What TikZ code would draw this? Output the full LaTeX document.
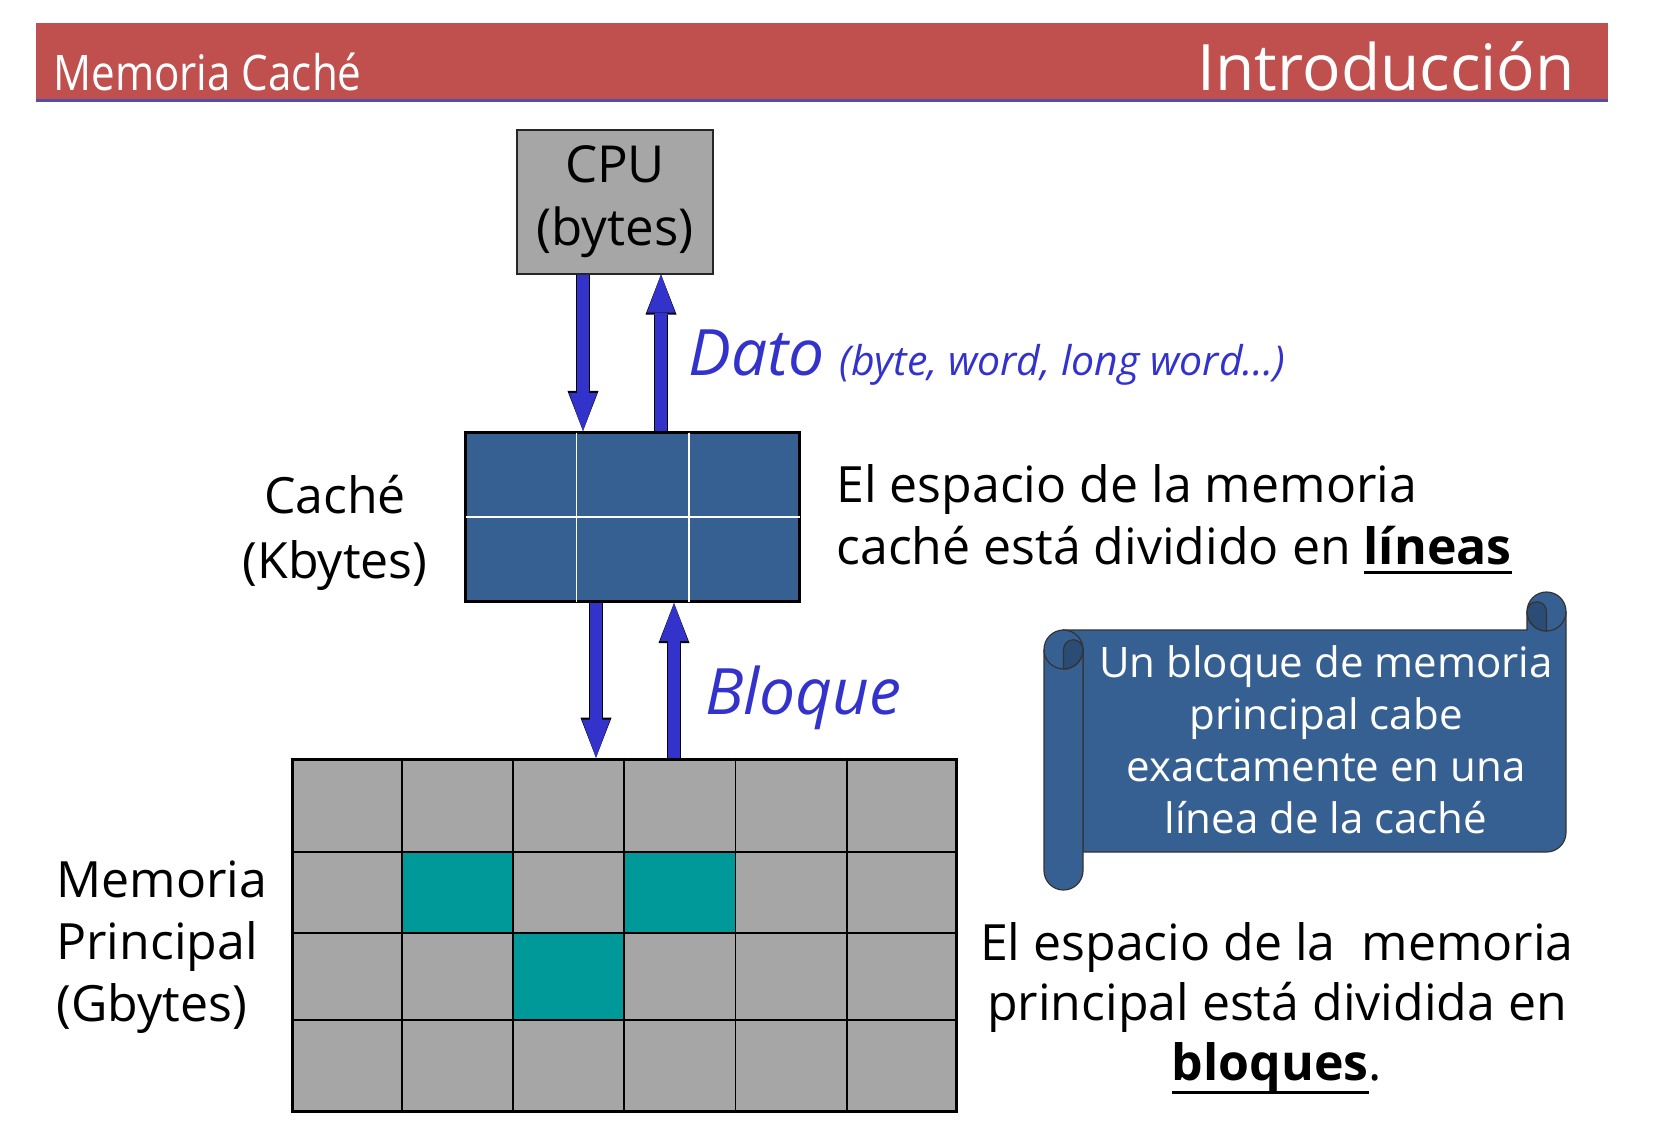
\documentclass[tikz,border=0pt]{standalone}
\usepackage{fontspec}
\setmainfont{Open Sans}
\newfontfamily\titlefont[FakeStretch=0.86]{Open Sans}
\usetikzlibrary{arrows.meta,positioning,calc}
\definecolor{MCBanner}{HTML}{C0504D}
\definecolor{MCRule}{HTML}{4F4FA8}
\definecolor{MCGray}{HTML}{A6A6A6}
\definecolor{MCBlue}{HTML}{376092}
\definecolor{MCBlueDark}{HTML}{2B4C74}
\definecolor{MCArrow}{HTML}{3333CC}
\definecolor{MCTeal}{HTML}{009999}
\newsavebox{\ulbox}
\newcommand{\ulbold}[2]{\sbox\ulbox{\bfseries #2}\rlap{\rule[-#1]{\wd\ulbox}{1.7pt}}\usebox\ulbox}
\tikzset{
  bus/.style={MCArrow,line width=6pt,-{Triangle[length=19pt,width=14pt,line width=0pt]},
              preaction={draw=black,line width=7pt,-{Triangle[length=20pt,width=15.5pt,line width=0pt]}}},
  banner/.style={fill=MCBanner,inner sep=0pt,minimum width=786pt,minimum height=38.5pt},
  barrule/.style={MCRule,line width=1.5pt},
  titlesmall/.style={text=white,inner sep=0pt,font=\titlefont\fontsize{24.5}{29}\selectfont},
  titlebig/.style={text=white,inner sep=0pt,font=\fontsize{32}{38}\selectfont},
  cpubox/.style={draw=black!85,line width=1pt,fill=MCGray,minimum width=98pt,minimum height=72pt,
                 inner sep=0pt,align=center,font=\fontsize{25.5}{31.5}\selectfont},
  cachebox/.style={draw=black,line width=1.6pt,fill=MCBlue,minimum width=167pt,minimum height=84.5pt,inner sep=0pt},
  cacheline/.style={white,line width=0.8pt,shorten <=0.8pt,shorten >=0.8pt},
  membox/.style={draw=black,line width=1.8pt,fill=MCGray,minimum width=332pt,minimum height=176pt,inner sep=0pt},
  memline/.style={black,line width=0.9pt},
  scroll/.style={fill=MCBlue,draw=black!80,line width=0.6pt},
  scrolldark/.style={fill=MCBlueDark,draw=black!80,line width=0.6pt},
  lbl/.style={inner sep=0pt,font=\fontsize{25}{31}\selectfont},
  scrolltext/.style={text=white,inner sep=0pt,align=center,font=\fontsize{21}{26}\selectfont},
  bluebig/.style={text=MCArrow,inner sep=0pt,font=\itshape\fontsize{32}{40}\selectfont},
  bluesmall/.style={text=MCArrow,inner sep=0pt,font=\itshape\fontsize{20.5}{24}\selectfont},
}
\begin{document}
\begin{tikzpicture}[x=0.5pt,y=-0.5pt]
  \useasboundingbox (0,0) rectangle (1654,1146);

  \node[banner] (bar) at (822,61.5) {};
  \draw[barrule] (bar.south west) -- (bar.south east);
  \node[titlesmall,anchor=base west] (tleft) at (53,90) {Memoria Caché};
  \node[titlebig,anchor=base east] (tright) at (1575,90) {Introducción};

  \node[cpubox] (cpu) at (615,201.5) {CPU\\(bytes)};

  \node[cachebox] (cache) at (632.5,517) {};
  \foreach \f in {1,2}
    \draw[cacheline] ($(cache.north west)!\f/3!(cache.north east)$) -- ($(cache.south west)!\f/3!(cache.south east)$);
  \draw[cacheline] (cache.west) -- (cache.east);

  \node[membox] (mem) at (624.5,935.5) {};
  \begin{scope}[shift={(mem.north west)}]
    \fill[MCTeal] (111.2,94) rectangle (222.4,175);
    \fill[MCTeal] (333.6,94) rectangle (444.8,175);
    \fill[MCTeal] (222.4,175) rectangle (333.6,262);
    \foreach \c in {1,...,5}
      \draw[memline] (\c*111.2,0) -- (\c*111.2,354);
    \foreach \r in {94,175,262}
      \draw[memline] (0,\r) -- (666,\r);
  \end{scope}

  \draw[bus] ([xshift=-16pt]cpu.south) -- ([xshift=-16pt]cpu.south |- cache.north);
  \draw[bus] ([xshift=23pt]cpu.south |- cache.north) -- ([xshift=23pt]cpu.south);
  \draw[bus] ([xshift=-18.25pt]cache.south) -- ([xshift=-18.25pt]cache.south |- mem.north);
  \draw[bus] ([xshift=20.75pt]cache.south |- mem.north) -- ([xshift=20.75pt]cache.south);

  \node[bluebig,anchor=base west] (dato) at (688,375) {Dato};
  \node[bluesmall,anchor=base west] (datoinfo) at (839,375) {(byte, word, long word…)};
  \node[bluebig,anchor=base west] (bloque) at (705,714) {Bloque};

  \node[lbl,align=center,anchor=base,font=\fontsize{25}{32.5}\selectfont] (cachelbl) at (335,578) {Caché\\(Kbytes)};
  \node[lbl,align=left,anchor=base west] (memlbl) at (56,1021) {Memoria\\Principal\\(Gbytes)};

  \node[lbl,align=left,anchor=base west] (cachetxt) at (836,564)
    {El espacio de la memoria\\caché está dividido en \ulbold{5pt}{líneas}};
  \node[lbl,align=center,anchor=base,font=\fontsize{25}{30}\selectfont] (memtxt) at (1277,1080)
    {El espacio de la\ \ memoria\\principal está dividida en\\\ulbold{7pt}{bloques}.};

  \filldraw[scroll] (1063.5,630) -- (1527,630) -- (1527,611.5) arc[start angle=180,end angle=360,radius=19.5]
    -- (1566,832.5) arc[start angle=0,end angle=90,radius=19.5] -- (1083,852) -- (1083,649.5) -- cycle;
  \filldraw[scroll] (1044,649.5) arc[start angle=180,end angle=360,radius=19.5]
    -- (1083,870.5) arc[start angle=0,end angle=180,radius=19.5] -- cycle;
  \draw[scroll,fill=none] (1527,611.5) arc[start angle=180,end angle=0,radius=19.5];
  \filldraw[scrolldark] (1527,611.5) arc[start angle=180,end angle=90,radius=19.5]
    -- (1546.5,611.5) arc[start angle=0,end angle=-180,radius=9.75] -- cycle;
  \draw[scroll,fill=none] (1044,649.5) arc[start angle=180,end angle=0,radius=19.5];
  \filldraw[scrolldark] (1083,649.5) arc[start angle=0,end angle=90,radius=19.5]
    -- (1063.5,649.5) arc[start angle=180,end angle=360,radius=9.75] -- cycle;
  \node[scrolltext,anchor=base] (scrolltxt) at (1326,833)
    {Un bloque de memoria\\principal cabe\\exactamente en una\\línea de la caché};
\end{tikzpicture}
\end{document}
